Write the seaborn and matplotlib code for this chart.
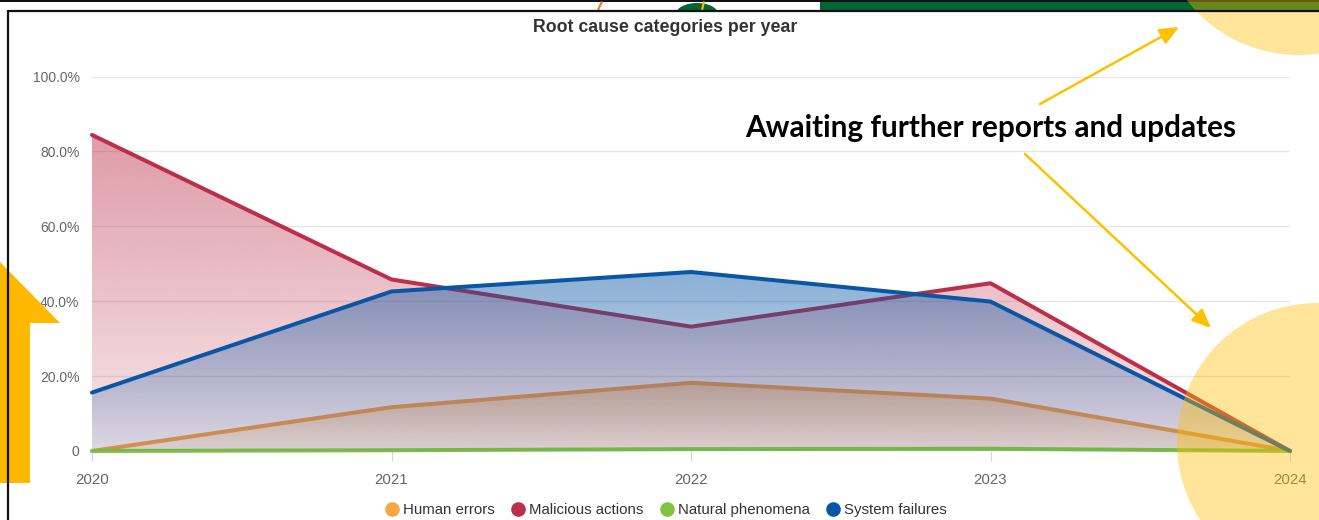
import numpy as np
import pandas as pd
import matplotlib
matplotlib.use("Agg")
import matplotlib.pyplot as plt
import seaborn as sns
from matplotlib.patches import Circle, Rectangle, Polygon, FancyArrowPatch, Ellipse
from matplotlib.lines import Line2D
from matplotlib.colors import to_rgb

# ---- data -----------------------------------------------------------------
years = [2020, 2021, 2022, 2023, 2024]
human_errors = [0.0, 11.7, 18.2, 14.0, 0.0]
malicious_actions = [84.4, 45.8, 33.2, 44.8, 0.0]
natural_phenomena = [0.0, 0.2, 0.5, 0.6, 0.0]
system_failures = [15.6, 42.6, 47.8, 39.9, 0.0]

series_names = ["Human errors", "Malicious actions", "Natural phenomena", "System failures"]
y_ticks = [0, 20, 40, 60, 80, 100]
y_tick_labels = ["0", "20.0%", "40.0%", "60.0%", "80.0%", "100.0%"]
x_tick_labels = ["2020", "2021", "2022", "2023", "2024"]
chart_title = "Root cause categories per year"
note_text = "Awaiting further reports and updates"

series_values = [human_errors, malicious_actions, natural_phenomena, system_failures]
df = pd.DataFrame({
    "year": years * len(series_names),
    "share": [v for vals in series_values for v in vals],
    "cause": [n for n in series_names for _ in years],
})

palette = {
    "Human errors": "#f4a742",
    "Malicious actions": "#bb2f48",
    "Natural phenomena": "#84c341",
    "System failures": "#0a56a6",
}

W, H = 1319, 520

sns.set_style("white")
plt.rcParams["font.family"] = ["Liberation Sans", "DejaVu Sans"]

fig = plt.figure(figsize=(W / 100, H / 100), dpi=100)
fig.patch.set_facecolor("white")

# plot area in pixel terms: x 92..1290, y 76.5..451
ax = fig.add_axes([92 / W, 1 - 451 / H, (1290 - 92) / W, (451 - 76.5) / H])


def gradient_area(ax, x, y, color, zorder, a_top=0.48, a_bot=0.11):
    """Area under a line filled with a vertical fading gradient."""
    poly = ax.fill_between(x, y, 0, facecolor="none", edgecolor="none")
    ymax = max(max(y), 1e-6)
    n = 256
    rgba = np.zeros((n, 1, 4))
    rgba[..., :3] = to_rgb(color)
    rgba[..., 3] = np.linspace(a_top, a_bot, n)[:, None]
    im = ax.imshow(rgba, extent=[x[0], x[-1], 0, ymax], origin="upper",
                   aspect="auto", zorder=zorder, interpolation="bilinear")
    im.set_clip_path(poly.get_paths()[0], transform=ax.transData)
    poly.remove()


for i, name in enumerate(series_names):
    sub = df[df["cause"] == name]
    gradient_area(ax, sub["year"].to_numpy(), sub["share"].to_numpy(),
                  palette[name], zorder=2 + 2 * i)
    sns.lineplot(data=sub, x="year", y="share", color=palette[name], lw=2.9,
                 ax=ax, zorder=3 + 2 * i, legend=False, estimator=None, sort=False)
    ln = ax.lines[-1]
    ln.set_clip_on(False)
    ln.set_solid_joinstyle("round")
    ln.set_solid_capstyle("round")

ax.set_xlim(2020, 2024)
ax.set_ylim(0, 100)
ax.set_yticks(y_ticks, y_tick_labels)
ax.set_xticks(years, x_tick_labels)
ax.set_xlabel("")
ax.set_ylabel("")
ax.grid(axis="y", color="#e6e6e6", lw=1.0)
ax.grid(axis="x", visible=False)
ax.set_axisbelow(True)
for s in ax.spines.values():
    s.set_visible(False)
ax.tick_params(axis="y", length=0, pad=9, labelsize=10, labelcolor="#666666")
ax.tick_params(axis="x", length=7.2, width=0.8, color="#ccd6eb", pad=8.5,
               labelsize=10.8, labelcolor="#666666", bottom=True)

renderer = fig.canvas.get_renderer()


def fit_width(t, px):
    bb = t.get_window_extent(renderer)
    t.set_fontsize(t.get_fontsize() * px / bb.width)


title = fig.text(665 / W, 1 - 28 / H, chart_title, ha="center", va="center",
                 fontsize=12.5, fontweight="bold", color="#333333")
fit_width(title, 264)

handles = [Line2D([], [], marker="o", linestyle="none", markersize=9.5,
                  markerfacecolor=palette[n], markeredgecolor=palette[n])
           for n in series_names]
leg = fig.legend(handles, series_names, loc="center", bbox_to_anchor=(665 / W, 1 - 510 / H),
                 ncol=4, frameon=False, fontsize=10.8, handletextpad=0.15,
                 columnspacing=0.95, handlelength=1.2, borderaxespad=0)
for t in leg.get_texts():
    t.set_color("#333333")

# ---- slide decorations, drawn in pixel coordinates -------------------------
ov = fig.add_axes([0, 0, 1, 1], zorder=10)
ov.set_xlim(0, W)
ov.set_ylim(H, 0)
ov.axis("off")
ov.patch.set_alpha(0)

strip = Rectangle((0, 1.2), W, 9.0, facecolor="none", edgecolor="none")
ov.add_patch(strip)
ov.add_patch(Rectangle((820, 1.2), W - 820, 9.0, facecolor="#006633", edgecolor="none"))
dome = Ellipse((697, 14), 42, 22, facecolor="#006633", edgecolor="none")
ov.add_patch(dome)
dome.set_clip_path(strip)
ov.plot([598, 602], [10, 1.5], color="#e8821e", lw=1.6, solid_capstyle="butt")
ov.plot([702, 704], [10, 1.5], color="#ffb800", lw=1.6, solid_capstyle="butt")
ov.add_patch(Rectangle((0, 0), W, 1.6, facecolor="#111111", edgecolor="none"))
# chart frame
ov.plot([8, W], [11, 11], color="#111111", lw=1.6, solid_capstyle="butt")
ov.plot([8, 8], [10.2, H], color="#111111", lw=1.6, solid_capstyle="butt")

# big upward arrow at the left edge
ov.add_patch(Polygon([(-30, 483), (30, 483), (30, 323), (60, 323), (0, 262),
                      (-60, 323), (-30, 323)], closed=True,
                     facecolor="#ffb800", edgecolor="none"))

# highlight circles
ov.add_patch(Circle((1298, -85), 140, facecolor="#ffc000", alpha=0.4, edgecolor="none"))
ov.add_patch(Circle((1317, 443), 140, facecolor="#ffc000", alpha=0.4, edgecolor="none"))

for (x0, y0), (x1, y1) in [((1040, 104), (1179, 27)), ((1025, 154), (1211, 328))]:
    ov.add_patch(FancyArrowPatch((x0, y0), (x1, y1),
                                 arrowstyle="-|>,head_length=1.15,head_width=0.5",
                                 mutation_scale=10, color="#ffc000", lw=1.8,
                                 shrinkA=0, shrinkB=0))

note = ov.text(991, 128, note_text, ha="center", va="center", fontsize=18,
               fontweight="bold", color="black", family=["Lato", "DejaVu Sans"])
fit_width(note, 492)

fig.savefig("out.png", dpi=100, facecolor="white")
